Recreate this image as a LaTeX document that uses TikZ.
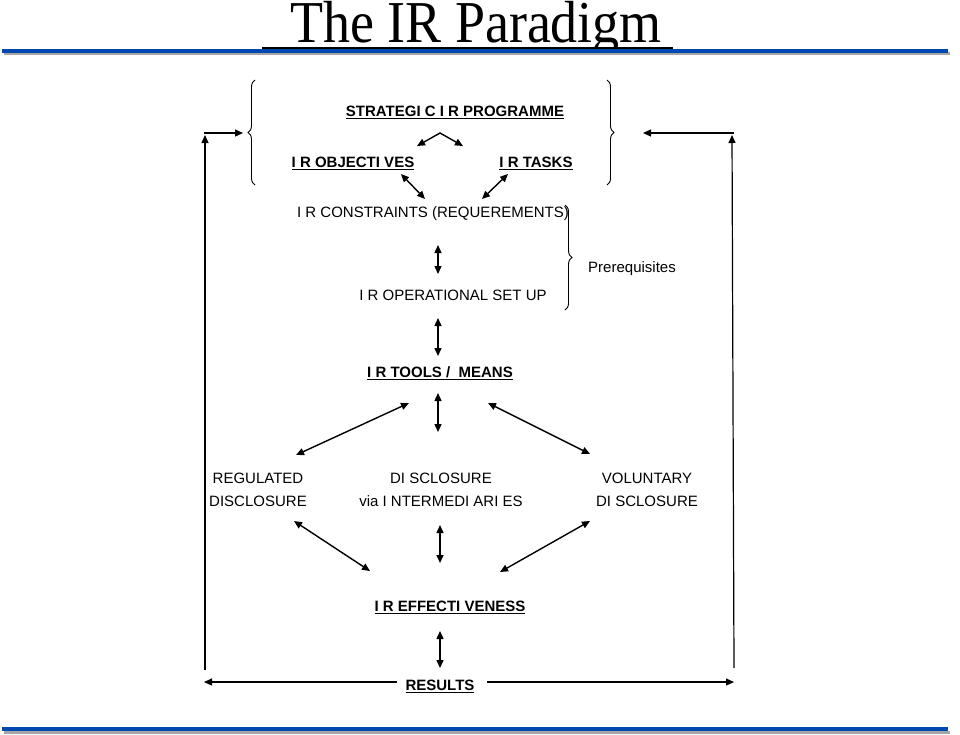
\documentclass[tikz,border=0pt]{standalone}
\usepackage{fontspec}
\setmainfont{Liberation Sans}
\newfontfamily\titlefont{Liberation Serif}
\usetikzlibrary{arrows.meta,decorations.pathreplacing}
\begin{document}
\begin{tikzpicture}[x=1pt,y=-1pt,
  lbl/.style={inner sep=1pt,font=\fontsize{15}{17}\selectfont},
  ulbl/.style={lbl,font=\fontsize{15}{17}\selectfont\bfseries},
  dar/.style={{Triangle[length=8pt,width=7pt]}-{Triangle[length=8pt,width=7pt]},line width=1.4pt},
  sar/.style={-{Triangle[length=8pt,width=7pt]},line width=1.2pt},
  brc/.style={decorate,decoration={brace,amplitude=7pt},line width=0.9pt}]
\useasboundingbox (0,0) rectangle (960,734);
\fill[white] (0,0) rectangle (960,734);
% title
\node[font=\titlefont\fontsize{54}{58}\selectfont,inner sep=0pt,anchor=base,yscale=1.1] (title) at (476,42) {The IR Paradigm};
\draw[line width=1.8pt] (262,48) -- (673,48);
\fill[gray!70] (4,52) rectangle (950,55);
\fill[blue!60!cyan!70!black] (2,49) rectangle (948,52.5);
\fill[gray!70] (4,731) rectangle (950,734);
\fill[blue!60!cyan!70!black] (2,727) rectangle (948,730.5);
% nodes
\newcommand{\ul}[1]{\underline{#1}}
\node[ulbl] (sp) at (455,112) {\ul{STRATEGI C I R PROGRAMME}};
\node[ulbl] (obj) at (353,163) {\ul{I R OBJECTI VES}};
\node[ulbl] (tasks) at (536,163) {\ul{I R TASKS}};
\node[lbl] (cons) at (433,214) {I R CONSTRAINTS (REQUEREMENTS)};
\node[lbl] (ops) at (453,295) {I R OPERATIONAL SET UP};
\node[lbl] (pre) at (632,269) {Prerequisites};
\node[ulbl] (tools) at (440,373) {\ul{I R TOOLS / \ MEANS}};
\node[lbl,align=center] (reg) at (258,490) {REGULATED\\[6pt]DISCLOSURE};
\node[lbl,align=center] (inter) at (441,490) {DI SCLOSURE\\[6pt]via I NTERMEDI ARI ES};
\node[lbl,align=center] (vol) at (647,490) {VOLUNTARY\\[6pt]DI SCLOSURE};
\node[ulbl] (eff) at (450,607) {\ul{I R EFFECTI VENESS}};
\node[ulbl] (res) at (440,686) {\ul{RESULTS}};
% braces
\coordinate (lbT) at (255,80); \coordinate (lbB) at (255,185);
\draw[brc] (lbB) -- (lbT);
\coordinate (rbT) at (607,80); \coordinate (rbB) at (607,185);
\draw[brc] (rbT) -- (rbB);
\coordinate (pbT) at (565,205); \coordinate (pbB) at (565,310);
\draw[brc] (pbT) -- (pbB);
% wedge
\coordinate (wp) at (440,133);
\draw[line width=1.4pt,{Triangle[length=8pt,width=7pt]}-{Triangle[length=8pt,width=7pt]}] (417,146) -- (wp) -- (463,146);
% arrows
\coordinate (a1) at (401,174); \coordinate (a2) at (425,199);
\draw[dar] (a1) -- (a2);
\coordinate (a3) at (508,174); \coordinate (a4) at (482,199);
\draw[dar] (a3) -- (a4);
\coordinate (v1) at (438,245); \coordinate (v2) at (438,274);
\draw[dar] (v1) -- (v2);
\coordinate (v3) at (438,318); \coordinate (v4) at (438,356);
\draw[dar] (v3) -- (v4);
\coordinate (v5) at (438,393); \coordinate (v6) at (438,432);
\draw[dar] (v5) -- (v6);
\coordinate (d1) at (409,403); \coordinate (d2) at (296,455);
\draw[dar] (d1) -- (d2);
\coordinate (d3) at (488,403); \coordinate (d4) at (590,454);
\draw[dar] (d3) -- (d4);
\coordinate (v7) at (440,525); \coordinate (v8) at (440,563);
\draw[dar] (v7) -- (v8);
\coordinate (d5) at (294,521); \coordinate (d6) at (370,571);
\draw[dar] (d5) -- (d6);
\coordinate (d7) at (590,521); \coordinate (d8) at (500,572);
\draw[dar] (d7) -- (d8);
\coordinate (v9) at (440,631); \coordinate (v10) at (440,668);
\draw[dar] (v9) -- (v10);
% loop
\coordinate (lb) at (205,670); \coordinate (lt) at (205,135);
\coordinate (rb) at (734,668); \coordinate (rt) at (732,135);
\draw[sar] (lb) -- (lt);
\draw[sar] (204,133) -- (243,133);
\draw[sar] (rb) -- (rt);
\draw[sar] (734,133) -- (643,133);
\coordinate (rl) at (397,682); \coordinate (rr) at (487,682);
\draw[sar] (rl) -- (204,682);
\draw[sar] (rr) -- (734,682);
\end{tikzpicture}
\end{document}
